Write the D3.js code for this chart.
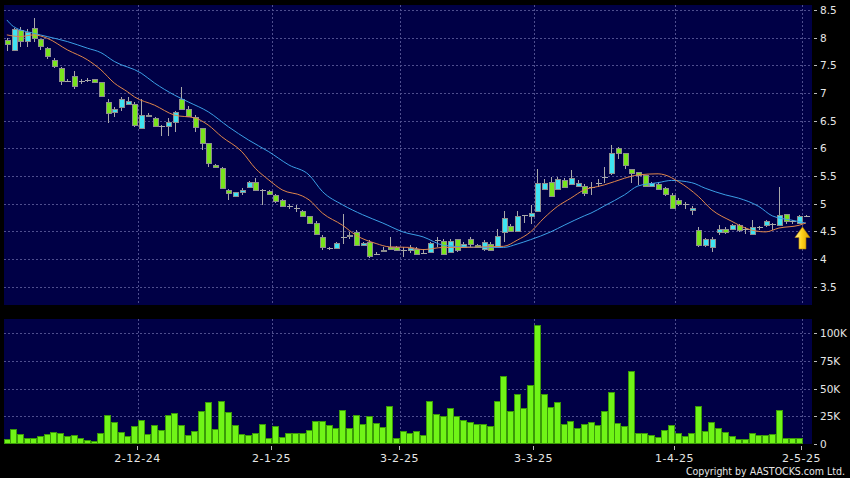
<!DOCTYPE html>
<html><head><meta charset="utf-8">
<script src="https://cdn.jsdelivr.net/npm/d3@7"></script>
<style>
html,body{margin:0;padding:0;background:#000;}
svg{display:block;}
text{font-family:"DejaVu Sans",sans-serif;fill:#e6e6e6;}
</style></head><body>
<svg id="chart" width="850" height="478"></svg>
<script>
// ---- data ----
const opens  = [7.96,7.78,8.14,7.94,8.18,7.97,7.82,7.60,7.46,7.22,7.30,7.22,7.24,7.25,7.19,6.83,6.65,6.74,6.81,6.81,
                6.36,6.61,6.54,6.40,6.41,6.48,6.89,6.72,6.57,6.36,6.09,5.70,5.64,5.25,5.14,5.21,5.31,5.40,5.25,5.23,
                5.16,5.07,4.95,4.93,4.87,4.77,4.66,4.40,4.20,4.20,4.39,4.44,4.48,4.25,4.31,4.09,4.14,4.22,4.22,4.16,
                4.16,4.19,4.11,4.13,4.34,4.33,4.13,4.36,4.21,4.36,4.25,4.19,4.28,4.21,4.48,4.60,4.51,4.79,4.78,4.87,
                5.26,5.40,5.26,5.43,5.35,5.32,5.32,5.31,5.37,5.49,5.55,6.00,5.91,5.62,5.57,5.51,5.32,5.36,5.28,5.16,
                5.07,5.00,4.89,4.52,4.25,4.22,4.49,4.55,4.54,4.61,4.54,4.45,4.58,4.61,4.63,4.61,4.81,4.69,4.66,4.78];
const highs  = [7.99,8.17,8.19,8.16,8.35,7.98,7.84,7.64,7.47,7.25,7.39,7.25,7.28,7.26,7.20,6.90,6.75,6.93,6.93,6.84,
                6.90,6.63,6.57,6.42,6.55,6.67,7.10,6.76,6.60,6.37,6.10,5.72,5.66,5.27,5.22,5.29,5.41,5.46,5.27,5.24,
                5.18,5.08,4.99,4.97,4.89,4.78,4.68,4.43,4.22,4.31,4.81,4.48,4.52,4.31,4.34,4.13,4.21,4.39,4.24,4.22,
                4.25,4.22,4.19,4.31,4.40,4.37,4.37,4.37,4.31,4.40,4.28,4.34,4.31,4.55,4.87,4.63,4.86,4.80,4.98,5.62,
                5.45,5.48,5.48,5.46,5.60,5.42,5.36,5.40,5.45,5.66,6.06,6.02,5.92,5.63,5.58,5.52,5.40,5.40,5.31,5.19,
                5.10,5.03,4.95,4.57,4.38,4.40,4.61,4.58,4.64,4.64,4.58,4.70,4.60,4.70,4.65,5.31,4.82,4.71,4.79,4.80];
const lows   = [7.76,7.78,7.84,7.84,7.93,7.78,7.61,7.46,7.15,7.19,7.07,7.16,7.20,7.18,6.92,6.46,6.57,6.67,6.78,6.39,
                6.35,6.56,6.39,6.22,6.22,6.30,6.70,6.57,6.30,5.97,5.66,5.64,5.27,5.07,5.12,5.16,5.29,5.24,4.98,5.16,
                5.01,4.94,4.90,4.85,4.77,4.64,4.43,4.17,4.17,4.19,4.28,4.37,4.24,4.24,4.01,4.07,4.13,4.16,4.15,4.03,
                4.10,4.07,4.10,4.10,4.22,4.07,4.10,4.13,4.20,4.22,4.20,4.15,4.15,4.20,4.31,4.48,4.50,4.66,4.64,4.86,
                5.25,5.12,5.25,5.28,5.34,5.31,5.14,5.16,5.31,5.37,5.52,5.80,5.62,5.37,5.33,5.30,5.30,5.26,5.13,4.91,
                4.96,4.91,4.79,4.21,4.22,4.13,4.43,4.46,4.52,4.49,4.45,4.43,4.53,4.57,4.53,4.59,4.64,4.64,4.63,4.76];
const closes = [7.88,8.15,7.94,8.11,7.99,7.85,7.66,7.49,7.22,7.22,7.13,7.22,7.24,7.20,6.95,6.64,6.72,6.90,6.86,6.42,
                6.60,6.58,6.40,6.40,6.48,6.66,6.71,6.58,6.39,6.09,5.73,5.66,5.28,5.19,5.21,5.25,5.39,5.25,5.25,5.17,
                5.04,4.95,4.95,4.93,4.78,4.66,4.45,4.22,4.20,4.29,4.39,4.42,4.25,4.29,4.06,4.09,4.17,4.19,4.16,4.16,
                4.20,4.09,4.11,4.29,4.34,4.09,4.33,4.16,4.28,4.27,4.21,4.31,4.16,4.42,4.74,4.51,4.78,4.79,4.83,5.37,
                5.37,5.14,5.44,5.31,5.46,5.38,5.19,5.31,5.37,5.49,5.91,5.91,5.70,5.56,5.51,5.32,5.37,5.26,5.17,4.93,
                5.00,5.00,4.93,4.25,4.36,4.37,4.55,4.48,4.61,4.52,4.54,4.57,4.58,4.68,4.63,4.80,4.68,4.69,4.77,4.78];
const volumesK = [4.8,13.4,9.4,5.5,5.0,7.6,9.4,10.6,9.8,7.0,7.8,5.5,3.4,2.6,10.2,26,20,10.6,7.0,16.4,
                  22,8.6,17,13,26,27.5,16.8,8,12,30,37.6,13.4,39,28.5,17,8.8,8.5,9.7,17.6,5.5,
                  15.8,6.4,10.2,10.2,10.2,13,20.6,20.3,17.3,14.2,31,14,25.7,18,24.8,18.8,15.5,34,5.8,12,
                  10.3,11.8,8.5,38.5,26.7,24.8,32,25.5,22,20,18,17.6,15.8,38.5,61,30,45,32,53,107,
                  45,33.6,38,18,21,14,18,20,17,29.7,47,18.5,16.4,66,9.7,9.7,7.9,6.4,12.7,16.7,
                  9.7,7.6,9.7,34,12,19.4,14,11,7.3,4.8,4.8,10,8.2,7.9,9,31,5.8,5.2,5.8,0];
const ma10Idx = [0,2,4,6,9,12,14,16,18,19,22,25,28,30,32,35,37,39,41,44,45,47,50,52,55,57,60,62,65,68,71,74,76,78,80,82,84,86,88,89,92,94,97,98,100,103,105,108,110,113,115,118,119];
const ma10Val = [8.05,8.02,8.05,7.99,7.78,7.60,7.42,7.18,7.02,6.93,6.78,6.60,6.55,6.42,6.21,5.94,5.64,5.43,5.25,5.14,5.07,4.83,4.61,4.43,4.28,4.22,4.21,4.17,4.21,4.21,4.22,4.23,4.34,4.49,4.74,4.95,5.10,5.25,5.31,5.34,5.46,5.52,5.54,5.52,5.40,5.13,4.89,4.68,4.56,4.49,4.56,4.61,4.65];
const ma20Idx = [0,1,4,6,9,12,14,16,20,22,25,27,30,33,36,39,42,45,47,50,53,56,59,62,65,68,71,74,76,78,81,83,86,87,89,92,94,97,99,102,104,107,109,112,114,117,119];
const ma20Val = [8.32,8.20,8.08,8.02,7.93,7.81,7.73,7.57,7.36,7.18,6.96,6.84,6.66,6.39,6.15,5.94,5.70,5.52,5.22,4.98,4.80,4.65,4.49,4.40,4.25,4.22,4.21,4.21,4.27,4.35,4.49,4.61,4.78,4.83,4.96,5.16,5.32,5.38,5.42,5.38,5.28,5.16,5.10,4.95,4.78,4.70,4.65];
const dateTickIdx    = [20,40,59,79,100,119];
const dateTickLabels = ["2-12-24","2-1-25","3-2-25","3-3-25","1-4-25","2-5-25"];
const priceTicks = [3.5,4,4.5,5,5.5,6,6.5,7,7.5,8,8.5];
const volTicks = [0,25000,50000,75000,100000];
const volTickLabels = ["0","25K","50K","75K","100K"];
const copyright = "Copyright by AASTOCKS.com Ltd.";

// ---- layout ----
const svg = d3.select("#chart");
const L = 4, R = 812;
const P = {top:5, bottom:305};
const V = {top:319, bottom:444};
const n = closes.length;
const x = d3.scaleBand().domain(d3.range(n)).range([3.5, 3.5 + n*6.714]).padding(0);
const step = x.step();
const cx = i => Math.round(x(i) + step/2) + 0.5;
const y = d3.scaleLinear().domain([3.5, 8.5]).range([286.7, 10]);
const yv = d3.scaleLinear().domain([0, 100000]).range([444, 333]);

const panelFill = "#000046", gridCol = "#4e4e8e";
svg.append("rect").attr("x",L).attr("y",P.top).attr("width",R-L).attr("height",P.bottom-P.top).attr("fill",panelFill);
svg.append("rect").attr("x",L).attr("y",V.top).attr("width",R-L).attr("height",V.bottom-V.top).attr("fill",panelFill);

const grid = svg.append("g").attr("stroke",gridCol).attr("stroke-width",1).attr("stroke-dasharray","2,2").attr("shape-rendering","crispEdges");
priceTicks.forEach(v => grid.append("line").attr("x1",L).attr("x2",R).attr("y1",Math.round(y(v))+0.5).attr("y2",Math.round(y(v))+0.5));
volTicks.filter(v=>v>0).forEach(v => grid.append("line").attr("x1",L).attr("x2",R).attr("y1",Math.round(yv(v))+0.5).attr("y2",Math.round(yv(v))+0.5));
dateTickIdx.forEach(i => {
  const gx = Math.round(x(i)) + 0.5;
  grid.append("line").attr("x1",gx).attr("x2",gx).attr("y1",P.top).attr("y2",P.bottom);
  grid.append("line").attr("x1",gx).attr("x2",gx).attr("y1",V.top).attr("y2",V.bottom);
});

// ---- candles ----
const upCol = "#3fe3f2", dnCol = "#78e41c", wickCol = "#a9a9a9", edgeCol = "#8f8f8f";
const cg = svg.append("g").attr("shape-rendering","crispEdges");
d3.range(n).forEach(i => {
  const o = opens[i], c = closes[i], h = highs[i], l = lows[i];
  const xc = cx(i);
  cg.append("line").attr("x1",xc).attr("x2",xc).attr("y1",y(h)).attr("y2",y(l)).attr("stroke",wickCol).attr("stroke-width",1);
  if (o === c) {
    cg.append("line").attr("x1",xc-3).attr("x2",xc+3).attr("y1",Math.round(y(c))+0.5).attr("y2",Math.round(y(c))+0.5).attr("stroke",wickCol).attr("stroke-width",1);
  } else {
    const top = Math.round(y(Math.max(o,c))), bot = Math.round(y(Math.min(o,c)));
    cg.append("rect").attr("x",xc-2.5).attr("y",top+0.5).attr("width",5).attr("height",Math.max(1,bot-top))
      .attr("fill", c > o ? upCol : dnCol).attr("stroke",edgeCol).attr("stroke-width",1);
  }
});

// ---- moving averages ----
const ma = (idx, vals, col) => {
  const line = d3.line().x(d => x(d[0]) + step/2).y(d => y(d[1])).curve(d3.curveMonotoneX);
  svg.append("path").attr("d", line(idx.map((k,j)=>[k, vals[j]]))).attr("fill","none").attr("stroke",col).attr("stroke-width",1);
};
ma(ma20Idx, ma20Val, "#3b9fe6");
ma(ma10Idx, ma10Val, "#e0864a");

// ---- arrow at the latest bar ----
const defs = svg.append("defs");
const gr = defs.append("linearGradient").attr("id","gold").attr("x1","0").attr("x2","1").attr("y1","0").attr("y2","0");
gr.append("stop").attr("offset","0").attr("stop-color","#fff3a0");
gr.append("stop").attr("offset","0.45").attr("stop-color","#ffd21a");
gr.append("stop").attr("offset","1").attr("stop-color","#d89a00");
const last = n - 1;
const ax = x(last), at = y(lows[last]) + 10;
svg.append("path")
  .attr("d", `M${ax},${at} L${ax+7.5},${at+10.5} L${ax+3.5},${at+10.5} L${ax+3.5},${at+22} L${ax-3.5},${at+22} L${ax-3.5},${at+10.5} L${ax-7.5},${at+10.5} Z`)
  .attr("fill","url(#gold)").attr("stroke","#b88400").attr("stroke-width",0.6);

// ---- volume bars ----
svg.append("g").attr("shape-rendering","crispEdges").selectAll("rect").data(d3.range(n)).join("rect")
  .attr("x", i => Math.round(x(i)) + 0.5)
  .attr("y", i => Math.round(yv(volumesK[i]*1000)) + 0.5)
  .attr("width", Math.round(step) - 1)
  .attr("height", i => Math.max(0, Math.round(yv(0)) - Math.round(yv(volumesK[i]*1000)) - 1))
  .attr("fill","#70f417").attr("stroke","#3a9a08").attr("stroke-width",1);

// ---- axes ----
const axG = svg.append("g");
priceTicks.forEach(v => {
  const yy = Math.round(y(v)) + 0.5;
  axG.append("line").attr("x1",814).attr("x2",817).attr("y1",yy).attr("y2",yy).attr("stroke","#bbb");
  axG.append("text").attr("x",820).attr("y",yy).attr("dy","0.36em").attr("font-size","10.5px").text(v);
});
volTicks.forEach((v,j) => {
  const yy = Math.round(yv(v)) + 0.5;
  axG.append("line").attr("x1",814).attr("x2",817).attr("y1",yy).attr("y2",yy).attr("stroke","#bbb");
  axG.append("text").attr("x",820).attr("y",yy).attr("dy","0.36em").attr("font-size","10.5px").text(volTickLabels[j]);
});
dateTickIdx.forEach((i,j) => {
  const gx = Math.round(x(i)) - 0.5;
  axG.append("line").attr("x1",gx).attr("x2",gx).attr("y1",446).attr("y2",450).attr("stroke","#bbb");
  axG.append("text").attr("x",gx).attr("y",462).attr("text-anchor","middle").attr("font-size","11px").attr("letter-spacing","0.5px").text(dateTickLabels[j]);
});
axG.append("text").attr("x",845).attr("y",475).attr("text-anchor","end")
  .style("font-family","'DejaVu Sans Condensed','DejaVu Sans',sans-serif").attr("font-size","10.5px").text(copyright);
</script></body></html>
